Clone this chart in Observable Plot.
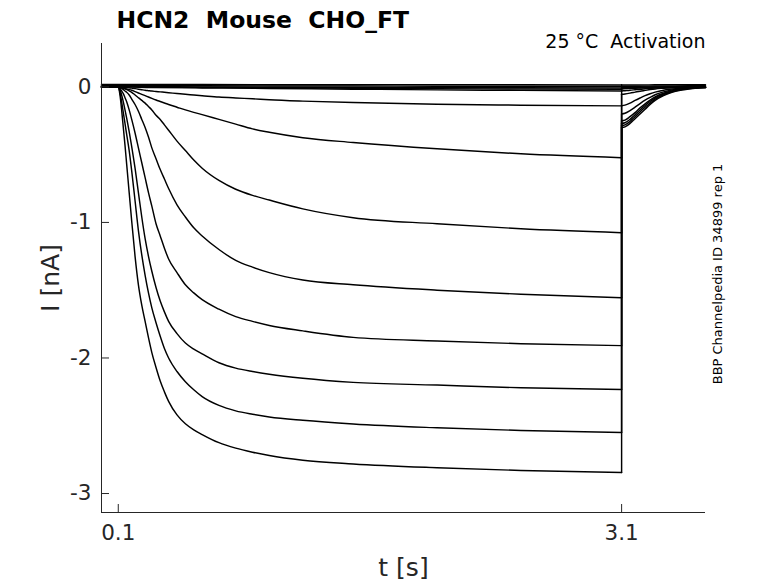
<!DOCTYPE html>
<html><head><meta charset="utf-8">
<script src="https://cdn.jsdelivr.net/npm/d3@7"></script>
<script src="https://cdn.jsdelivr.net/npm/@observablehq/plot@0.6"></script>
<style>body{margin:0;background:#fff}</style>
</head><body><div id="chart"></div>
<script>
// ---- texts ----
const title = "HCN2  Mouse  CHO_FT";
const subtitle = "25 °C  Activation";
const sideNote = "BBP Channelpedia ID 34899 rep 1";
const xLabel = "t [s]";
const yLabel = "I [nA]";

// ---- axes ----
const xDomain = [0, 3.6];
const yDomain = [-3.14, 0.32];
const xTicks = [0.1, 3.1];
const yTicks = [0, -1, -2, -3];

// ---- time grids (s) ----
const tStep = [0, 0.1, 0.11, 0.12, 0.13, 0.14, 0.15, 0.165, 0.18, 0.2, 0.22, 0.24, 0.26, 0.28, 0.3, 0.325, 0.35, 0.375, 0.4, 0.45, 0.5, 0.55, 0.6, 0.7, 0.8, 0.9, 1.0, 1.2, 1.5, 2.0, 2.5, 3.1];
const tTail = [3.1, 3.12, 3.15, 3.18, 3.21, 3.24, 3.27, 3.3, 3.35, 3.4, 3.45, 3.5, 3.55, 3.6];
const tFlat = [0, 0.1, 0.3, 0.6, 1.0, 1.5, 2.0, 2.5, 3.1];
const tTailFlat = [3.1, 3.2, 3.3, 3.4, 3.5, 3.6];

// ---- currents (nA) during the activation step ----
const stepA = [0, 0, -0.06, -0.17, -0.30, -0.43, -0.57, -0.78, -0.99, -1.25, -1.46, -1.61, -1.73, -1.85, -1.96, -2.07, -2.17, -2.25, -2.32, -2.42, -2.485, -2.53, -2.565, -2.625, -2.665, -2.695, -2.72, -2.755, -2.782, -2.81, -2.83, -2.845];
const stepB = [0, 0, -0.04, -0.11, -0.19, -0.27, -0.35, -0.47, -0.62, -0.84, -1.06, -1.24, -1.39, -1.52, -1.63, -1.74, -1.84, -1.93, -2.00, -2.10, -2.175, -2.235, -2.285, -2.35, -2.39, -2.415, -2.435, -2.46, -2.487, -2.515, -2.535, -2.55];
const stepC = [0, 0, -0.02, -0.06, -0.11, -0.17, -0.23, -0.33, -0.44, -0.60, -0.78, -0.96, -1.12, -1.25, -1.36, -1.48, -1.58, -1.66, -1.73, -1.82, -1.89, -1.935, -1.97, -2.035, -2.075, -2.10, -2.12, -2.15, -2.18, -2.20, -2.22, -2.233];
const stepD = [0, 0, -0.01, -0.03, -0.05, -0.08, -0.11, -0.17, -0.24, -0.34, -0.45, -0.56, -0.67, -0.78, -0.88, -1.01, -1.10, -1.19, -1.27, -1.37, -1.46, -1.52, -1.57, -1.64, -1.695, -1.73, -1.76, -1.80, -1.848, -1.875, -1.895, -1.909];
const stepE = [0, 0, -0.005, -0.01, -0.02, -0.03, -0.04, -0.06, -0.09, -0.13, -0.18, -0.24, -0.30, -0.37, -0.45, -0.53, -0.61, -0.68, -0.75, -0.87, -0.96, -1.04, -1.10, -1.20, -1.28, -1.33, -1.37, -1.425, -1.46, -1.50, -1.53, -1.555];
const stepF = [0, 0, 0, -0.005, -0.01, -0.015, -0.02, -0.03, -0.04, -0.06, -0.08, -0.10, -0.12, -0.145, -0.17, -0.21, -0.24, -0.28, -0.32, -0.40, -0.47, -0.54, -0.60, -0.69, -0.755, -0.80, -0.835, -0.90, -0.965, -1.01, -1.047, -1.076];
const stepG = [0, 0, -0.003, -0.006, -0.009, -0.012, -0.016, -0.02, -0.025, -0.035, -0.045, -0.055, -0.065, -0.075, -0.085, -0.097, -0.108, -0.119, -0.13, -0.15, -0.17, -0.188, -0.205, -0.24, -0.275, -0.31, -0.335, -0.375, -0.41, -0.457, -0.494, -0.523];
const stepH = [0, 0, -0.001, -0.002, -0.003, -0.004, -0.005, -0.007, -0.009, -0.013, -0.017, -0.021, -0.025, -0.028, -0.031, -0.034, -0.037, -0.040, -0.043, -0.049, -0.055, -0.06, -0.065, -0.075, -0.082, -0.088, -0.095, -0.105, -0.116, -0.128, -0.135, -0.14];
const flatI = [0, 0, -0.004, -0.008, -0.012, -0.017, -0.022, -0.026, -0.03];
const flatJ = [0.003, 0.003, 0, -0.004, -0.007, -0.01, -0.013, -0.016, -0.018];
const flatK = [0.006, 0.006, 0.003, 0, -0.002, -0.004, -0.005, -0.007, -0.008];
const flatL = [0.012, 0.012, 0.011, 0.009, 0.007, 0.006, 0.005, 0.004, 0.003];
const flatM = [0.018, 0.018, 0.018, 0.017, 0.016, 0.016, 0.015, 0.015, 0.014];

// ---- tail currents (nA) after the step ----
const tailA = [-0.30, -0.295, -0.27, -0.235, -0.20, -0.165, -0.13, -0.10, -0.065, -0.04, -0.025, -0.015, -0.008, -0.004];
const tailB = [-0.285, -0.28, -0.255, -0.22, -0.185, -0.15, -0.12, -0.09, -0.058, -0.036, -0.022, -0.013, -0.007, -0.003];
const tailC = [-0.27, -0.265, -0.24, -0.205, -0.17, -0.137, -0.108, -0.082, -0.052, -0.032, -0.02, -0.012, -0.006, -0.003];
const tailD = [-0.25, -0.245, -0.22, -0.19, -0.155, -0.125, -0.098, -0.074, -0.047, -0.03, -0.018, -0.011, -0.006, -0.003];
const tailE = [-0.20, -0.195, -0.175, -0.15, -0.123, -0.098, -0.077, -0.058, -0.037, -0.023, -0.014, -0.008, -0.004, -0.002];
const tailF = [-0.14, -0.135, -0.12, -0.10, -0.082, -0.065, -0.051, -0.039, -0.025, -0.016, -0.01, -0.006, -0.003, -0.001];
const tailG = [-0.055, -0.052, -0.046, -0.039, -0.032, -0.026, -0.02, -0.015, -0.01, -0.006, -0.004, -0.002, -0.001, 0];
const tailH = [-0.03, -0.028, -0.025, -0.021, -0.017, -0.014, -0.011, -0.008, -0.005, -0.003, -0.002, -0.001, 0, 0];
const tailI = [-0.015, -0.008, -0.004, -0.002, -0.001, -0.002];
const tailJ = [-0.01, -0.006, -0.003, -0.002, -0.004, -0.006];
const tailK = [-0.004, -0.002, -0.001, 0, 0.001, 0.002];
const tailL = [0.004, 0.005, 0.006, 0.007, 0.008, 0.008];
const tailM = [0.014, 0.014, 0.015, 0.015, 0.016, 0.016];

// ---- assemble ----
const series = [
  {name: "A", ts: tStep, s: stepA, tt: tTail, tail: tailA},
  {name: "B", ts: tStep, s: stepB, tt: tTail, tail: tailB},
  {name: "C", ts: tStep, s: stepC, tt: tTail, tail: tailC},
  {name: "D", ts: tStep, s: stepD, tt: tTail, tail: tailD},
  {name: "E", ts: tStep, s: stepE, tt: tTail, tail: tailE},
  {name: "F", ts: tStep, s: stepF, tt: tTail, tail: tailF},
  {name: "G", ts: tStep, s: stepG, tt: tTail, tail: tailG},
  {name: "H", ts: tStep, s: stepH, tt: tTail, tail: tailH},
  {name: "I", ts: tFlat, s: flatI, tt: tTailFlat, tail: tailI},
  {name: "J", ts: tFlat, s: flatJ, tt: tTailFlat, tail: tailJ},
  {name: "K", ts: tFlat, s: flatK, tt: tTailFlat, tail: tailK},
  {name: "L", ts: tFlat, s: flatL, tt: tTailFlat, tail: tailL},
  {name: "M", ts: tFlat, s: flatM, tt: tTailFlat, tail: tailM}
];
const stepRows = series.flatMap(d => d.ts.map((t, i) => ({trace: d.name, t, I: d.s[i]})));
const tailRows = series.flatMap(d => d.tt.map((t, i) => ({trace: d.name, t, I: d.tail[i]})));
const jumpRows = series.flatMap(d => [
  {trace: d.name, t: d.ts[d.ts.length - 1], I: d.s[d.s.length - 1]},
  {trace: d.name, t: d.tt[0], I: d.tail[0]}
]);

const ink = "#262626";
const lw = 1.45;
const chart = Plot.plot({
  width: 778, height: 583,
  marginLeft: 101, marginRight: 73, marginTop: 43, marginBottom: 71,
  style: {fontFamily: "DejaVu Sans", background: "#fff", color: ink, overflow: "visible"},
  x: {domain: xDomain},
  y: {domain: yDomain},
  marks: [
    Plot.line(stepRows, {x: "t", y: "I", z: "trace", stroke: "#000", strokeWidth: lw, curve: "monotone-x"}),
    Plot.line(jumpRows, {x: "t", y: "I", z: "trace", stroke: "#000", strokeWidth: lw}),
    Plot.line(tailRows, {x: "t", y: "I", z: "trace", stroke: "#000", strokeWidth: lw, curve: "monotone-x"}),
    Plot.ruleX([xDomain[0]], {stroke: ink, strokeWidth: 1}),
    Plot.ruleY([yDomain[0]], {stroke: ink, strokeWidth: 1}),
    // inward ticks
    Plot.ruleX(xTicks, {x: d => d, y1: yDomain[0], y2: yDomain[0], insetTop: -8, stroke: ink, strokeWidth: 1}),
    Plot.ruleY(yTicks, {y: d => d, x1: xDomain[0], x2: xDomain[0], insetRight: -8, stroke: ink, strokeWidth: 1}),
    Plot.axisX({ticks: xTicks, tickSize: 0, tickPadding: 12, fontSize: 21.5, tickFormat: d => d.toFixed(1), label: null, fill: ink}),
    Plot.axisY({ticks: yTicks, tickSize: 0, tickPadding: 10, fontSize: 21.5, tickFormat: d => String(d), label: null, fill: ink}),
    Plot.text([yLabel], {text: d => d, frameAnchor: "left", dx: -51, rotate: -90, fontSize: 25, textAnchor: "middle", lineAnchor: "middle", fill: ink}),
    Plot.text([xLabel], {text: d => d, frameAnchor: "bottom", dy: 55, fontSize: 25, textAnchor: "middle", lineAnchor: "middle", fill: ink}),
    Plot.text([title], {text: d => d, frameAnchor: "top-left", dx: 15, dy: -16, fontSize: 23.5, fontWeight: "bold", textAnchor: "start", lineAnchor: "bottom", fill: "#000"}),
    Plot.text([subtitle], {text: d => d, frameAnchor: "top-right", dx: 0, dy: 4, fontSize: 19, textAnchor: "end", lineAnchor: "bottom", fill: "#000"}),
    Plot.text([sideNote], {text: d => d, frameAnchor: "right", dx: 12, dy: -4, rotate: -90, fontSize: 13, textAnchor: "middle", lineAnchor: "middle", fill: "#000"})
  ]
});
document.getElementById("chart").append(chart);
</script></body></html>
